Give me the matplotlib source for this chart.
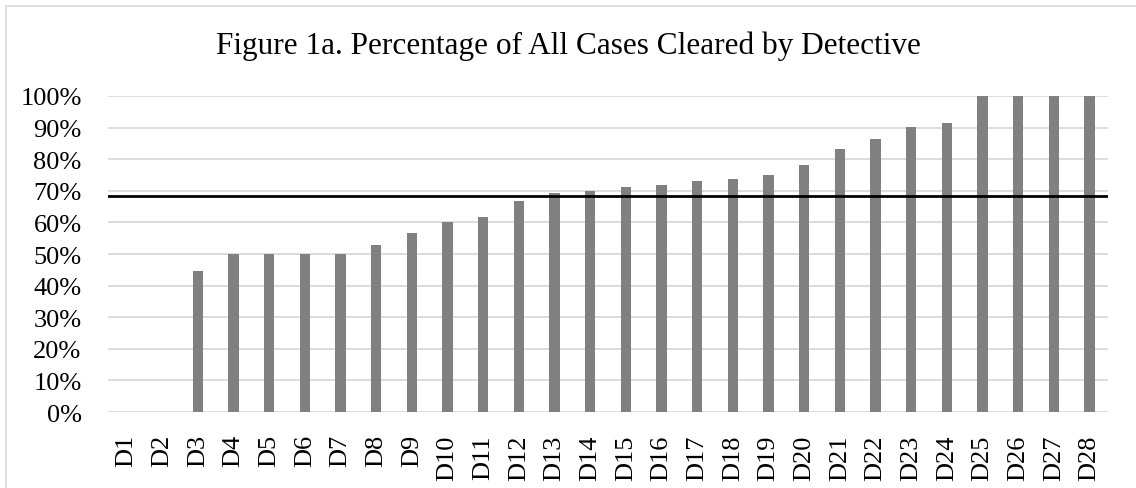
import numpy as np
import matplotlib.pyplot as plt
from matplotlib.ticker import PercentFormatter
from matplotlib.patches import Rectangle

detectives = ["D%d" % i for i in range(1, 29)]
cleared = [0, 0, 44.7, 50, 50, 50, 50, 52.9, 56.7, 60, 61.8, 66.9, 69.4, 69.9,
           71.2, 71.8, 73.1, 73.7, 75, 78.1, 83.1, 86.4, 90.2, 91.5, 100, 100, 100, 100]
average = 68.3

plt.rcParams['font.family'] = ['Liberation Serif', 'DejaVu Serif']

fig = plt.figure(figsize=(11.36, 4.89), dpi=100)
ax = fig.add_axes([108 / 1136, 1 - 413 / 489, (1108 - 108) / 1136, (413 - 97) / 489])

x = np.arange(len(detectives))
ax.bar(x, cleared, width=0.29, color='#808080', zorder=2)
ax.axhline(average, color='black', linewidth=2, zorder=3)

ax.set_ylim(0, 100)
ax.set_xlim(-0.52, len(detectives) - 0.48)
ax.set_yticks(np.arange(0, 101, 10))
ax.yaxis.set_major_formatter(PercentFormatter(decimals=0))
ax.set_xticks(x)
ax.set_xticklabels(detectives, rotation=90)
ax.tick_params(axis='both', length=0, labelsize=19, labelcolor='black')
ax.tick_params(axis='x', pad=16)
ax.tick_params(axis='y', pad=19)
ax.grid(axis='y', color='#d9d9d9', linewidth=1.3, zorder=0)
for s in ax.spines.values():
    s.set_visible(False)

fig.text(0.5, 1 - 46 / 489, "Figure 1a. Percentage of All Cases Cleared by Detective",
         ha='center', va='center', fontsize=22.5)

# only the top and left edges of the chart border show in the picture
fig.patches.append(Rectangle((6 / 1136, -0.05), 1.1, 1 - 7 / 489 + 0.05,
                             transform=fig.transFigure, fill=False,
                             edgecolor='#d9d9d9', linewidth=1.2))

fig.savefig("out.png", dpi=100)
